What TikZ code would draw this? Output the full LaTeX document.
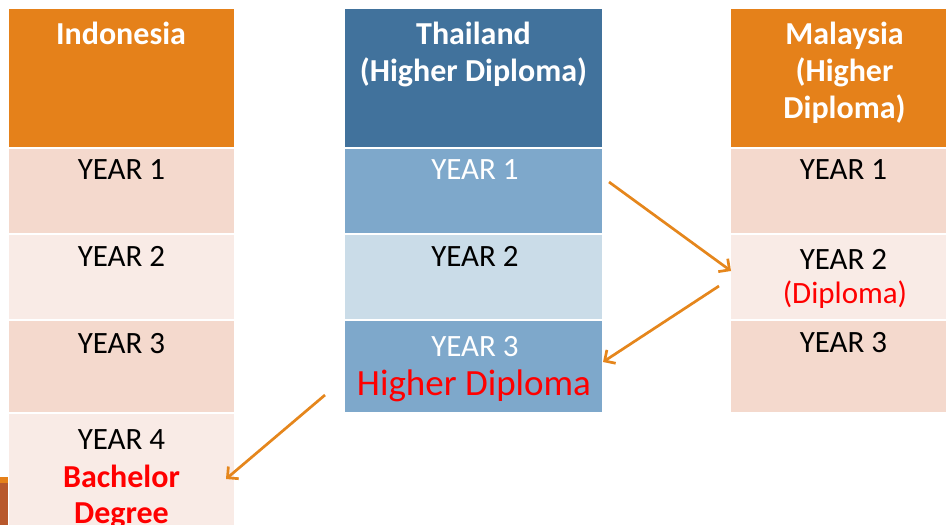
\documentclass[tikz,border=0pt]{standalone}
\usepackage{fontspec}
\setmainfont{Carlito}
\usetikzlibrary{arrows.meta}
\definecolor{hdrorange}{HTML}{E5811A}
\definecolor{hdrblue}{HTML}{41729C}
\definecolor{peachA}{HTML}{F4D9CD}
\definecolor{peachB}{HTML}{F9EBE6}
\definecolor{blueA}{HTML}{7EA8CB}
\definecolor{blueB}{HTML}{CADCE8}
\definecolor{arrowor}{HTML}{E5861C}
\definecolor{barbrown}{HTML}{B8582C}
\definecolor{redtxt}{HTML}{FF0000}
\tikzset{
  cell/.style={inner sep=0pt, outer sep=0pt, anchor=north west, draw=none},
  txt/.style={inner sep=0pt, anchor=base, font=\fontsize{31}{37}\selectfont},
  btxt/.style={txt, font=\fontsize{32}{37}\selectfont\bfseries},
  bigtxt/.style={inner sep=0pt, anchor=base, font=\fontsize{37}{44}\selectfont},
  flow/.style={draw=arrowor, line width=2.7pt, -{Straight Barb[length=8pt,width=16pt,line width=2.7pt]}}
}
\begin{document}
\begin{tikzpicture}[x=1pt,y=-1pt]
\useasboundingbox (0,0) rectangle (946,525);
\begin{scope}
\clip (0,0) rectangle (946,525);
% bottom-left bar
\fill[hdrorange] (0,477) rectangle (8,483);
\fill[barbrown] (0,483) rectangle (8,525);
% Indonesia column
\node[cell, fill=hdrorange, minimum width=225pt, minimum height=138pt] (ih) at (9,9) {};
\node[cell, fill=peachA, minimum width=225pt, minimum height=84pt] (i1) at (9,149) {};
\node[cell, fill=peachB, minimum width=225pt, minimum height=84pt] (i2) at (9,235) {};
\node[cell, fill=peachA, minimum width=225pt, minimum height=91pt] (i3) at (9,321) {};
\node[cell, fill=peachB, minimum width=225pt, minimum height=115pt] (i4) at (9,414) {};
% Thailand column
\node[cell, fill=hdrblue, minimum width=257pt, minimum height=138pt] (th) at (345,9) {};
\node[cell, fill=blueA, minimum width=257pt, minimum height=84pt] (t1) at (345,149) {};
\node[cell, fill=blueB, minimum width=257pt, minimum height=84pt] (t2) at (345,235) {};
\node[cell, fill=blueA, minimum width=257pt, minimum height=91pt] (t3) at (345,321) {};
% Malaysia column
\node[cell, fill=hdrorange, minimum width=227pt, minimum height=138pt] (mh) at (731,9) {};
\node[cell, fill=peachA, minimum width=227pt, minimum height=84pt] (m1) at (731,149) {};
\node[cell, fill=peachB, minimum width=227pt, minimum height=84pt] (m2) at (731,235) {};
\node[cell, fill=peachA, minimum width=227pt, minimum height=91pt] (m3) at (731,321) {};
\end{scope}
% texts: Indonesia
\node[btxt, text=white] (tih) at (121,44) {Indonesia};
\node[txt] (ti1) at (121.5,179) {YEAR 1};
\node[txt] (ti2) at (121.5,266) {YEAR 2};
\node[txt] (ti3) at (121.5,353) {YEAR 3};
\node[txt] (ti4) at (121.5,449) {YEAR 4};
\node[btxt, text=redtxt] (ti4a) at (121.5,487) {Bachelor};
\node[btxt, text=redtxt] (ti4b) at (121.5,523) {Degree};
% Thailand
\node[btxt, text=white] (tth1) at (473.5,44) {Thailand};
\node[btxt, text=white] (tth2) at (473.5,81) {(Higher Diploma)};
\node[txt, text=white] (tt1) at (475,179) {YEAR 1};
\node[txt] (tt2) at (475,266) {YEAR 2};
\node[txt, text=white] (tt3) at (475,356) {YEAR 3};
\node[bigtxt, text=redtxt] (tt3a) at (474,395) {Higher Diploma};
% Malaysia
\node[btxt, text=white] (tmh1) at (844.5,44) {Malaysia};
\node[btxt, text=white] (tmh2) at (844.5,81) {(Higher};
\node[btxt, text=white] (tmh3) at (844.5,118) {Diploma)};
\node[txt] (tm1) at (843.5,179) {YEAR 1};
\node[txt] (tm2) at (843.5,269) {YEAR 2};
\node[txt, text=redtxt] (tm2a) at (845,303) {(Diploma)};
\node[txt] (tm3) at (843.5,352) {YEAR 3};
% arrows
\coordinate (a1s) at (609,182);
\coordinate (a1e) at (731,271);
\coordinate (a2s) at (719,286);
\coordinate (a2e) at (603,362);
\coordinate (a3s) at (325,395);
\coordinate (a3e) at (226,479);
\draw[flow] (a1s) -- (a1e);
\draw[flow] (a2s) -- (a2e);
\draw[flow] (a3s) -- (a3e);
\end{tikzpicture}
\end{document}
